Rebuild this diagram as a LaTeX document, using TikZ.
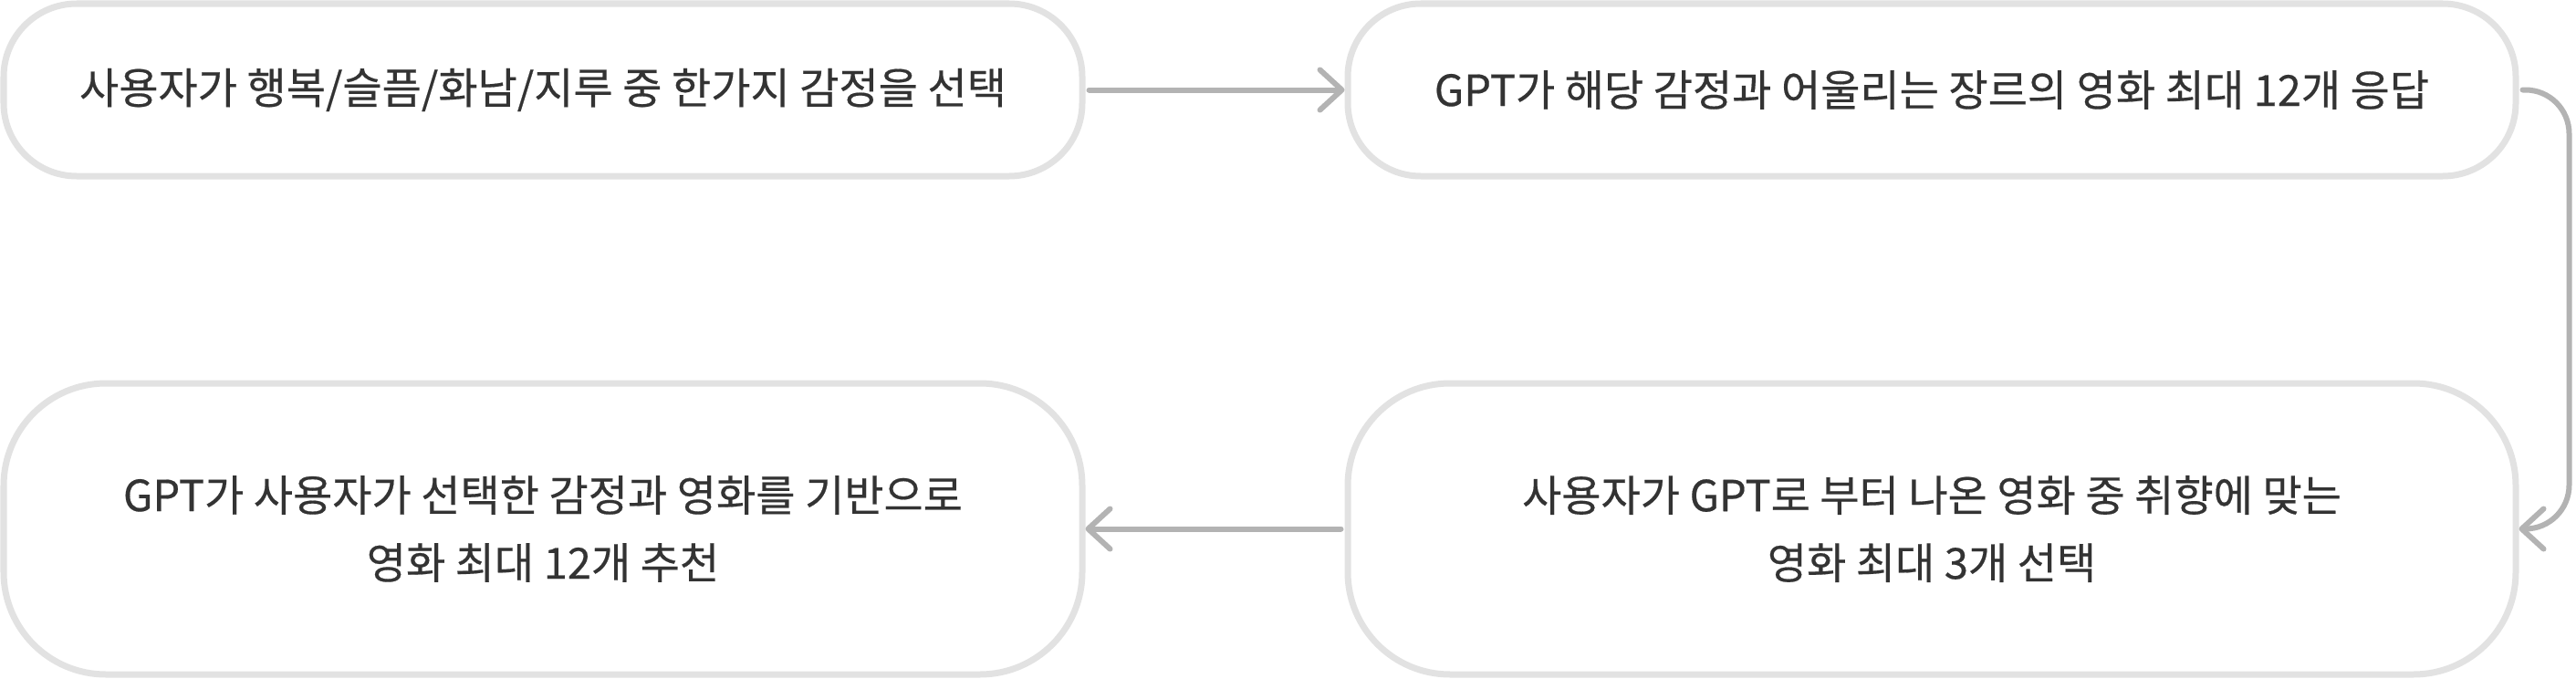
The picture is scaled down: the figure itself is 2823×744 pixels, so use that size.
\documentclass[tikz,border=0pt]{standalone}
\usepackage{fontspec}
\setmainfont[FakeBold=0.4]{Noto Sans CJK KR}
\usetikzlibrary{arrows.meta,positioning}

\definecolor{boxline}{HTML}{E2E2E2}
\definecolor{flowline}{HTML}{B3B3B3}
\definecolor{labeltext}{HTML}{333333}

\begin{document}
\begin{tikzpicture}[x=0.5pt,y=-0.5pt,
    >={Straight Barb[length=12pt,width=22pt,line cap=round,line join=round]},
    flow/.style={->,draw=flowline,line width=3pt,line cap=round,rounded corners=24pt},
    stepbox/.style={draw=boxline,fill=white,line width=3.5pt,text=labeltext,
      align=center,inner sep=0pt,font=\fontsize{23.5}{37}\selectfont},
    smallbox/.style={stepbox,rounded corners=40pt,minimum height=94.5pt},
    bigbox/.style={stepbox,rounded corners=56pt,minimum height=159.5pt}]
  \useasboundingbox (0,0) rectangle (2823,744);

  \node[smallbox,minimum width=591pt] (pick) at (595,98.5) {사용자가 행복/슬픔/화남/지루 중 한가지 감정을 선택};
  \node[smallbox,minimum width=640pt] (reply) [right of=pick,node distance=761pt] {GPT가 해당 감정과 어울리는 장르의 영화 최대 12개 응답};
  \node[bigbox,minimum width=591pt] (recommend) [below of=pick,node distance=240.5pt] {GPT가 사용자가 선택한 감정과 영화를 기반으로\\영화 최대 12개 추천};
  \node[bigbox,minimum width=640pt] (choose) [right of=recommend,node distance=761pt] {사용자가 GPT로 부터 나온 영화 중 취향에 맞는\\영화 최대 3개 선택};

  \draw[flow,shorten <=2pt] (pick) -- (reply);
  \draw[flow,shorten <=2pt] (reply.east) -- ++(55,0) |- (choose.east);
  \draw[flow,shorten <=2pt] (choose) -- (recommend);
\end{tikzpicture}
\end{document}
